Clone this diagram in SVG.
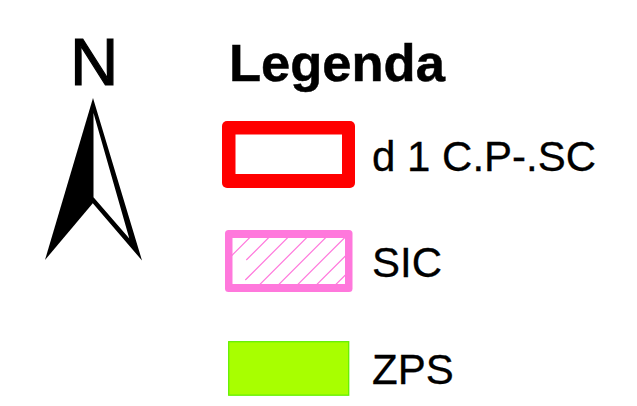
<svg xmlns="http://www.w3.org/2000/svg" width="637" height="406" viewBox="0 0 637 406">
<style>
text{font-family:"Liberation Sans",Arial,sans-serif;fill:#000}
.l{font-size:42px;stroke:#000;stroke-width:.3px}
.h{stroke:#ff78dc;stroke-width:1.2}
</style>
<defs><clipPath id="c"><rect x="232" y="237" width="113" height="47"/></clipPath></defs>
<rect width="637" height="406" fill="#fff"/>
<g id="north">
<text x="70" y="84.500" font-size="67" stroke="#000" stroke-width="1.200">N</text>
<path d="M93 98L45 260L93 203Z" fill="#000"/>
<path d="M93 98L142 260.500L93 203.500ZM93.500 113V197.300L129.300 238.500Z" fill="#000" fill-rule="evenodd"/>
</g>
<g id="title"><text x="229" y="81" font-size="52.500" font-weight="700" stroke="#000" stroke-width=".5">Legenda</text></g>
<g id="legend-dcp">
<rect x="222" y="121" width="133" height="67" rx="5" fill="#f00"/>
<rect x="235.500" y="134.500" width="106.500" height="39.500" fill="#fff"/>
<text class="l" x="372" y="171">d 1 C.P-.SC</text>
</g>
<g id="legend-sic">
<rect x="225" y="230" width="127.500" height="62" rx="3.500" fill="#ff78dc"/>
<rect x="232.500" y="238" width="112.500" height="46" fill="#fff"/>
<g clip-path="url(#c)">
<path class="h" d="M307.300 180L227.300 260M326.300 180L246.300 260M345.300 180L245.300 280M364.300 180L244.300 300M383.300 180L263.300 300M402.300 180L282.300 300M421.300 180L301.300 300M440.300 180L320.300 300"/>
</g>
<text class="l" x="372" y="277">SIC</text>
</g>
<g id="legend-zps">
<rect x="228.700" y="341.700" width="120" height="53.500" fill="#a8ff00" stroke="#64f000" stroke-width="1.300"/>
<text class="l" x="372" y="384">ZPS</text>
</g>
</svg>
